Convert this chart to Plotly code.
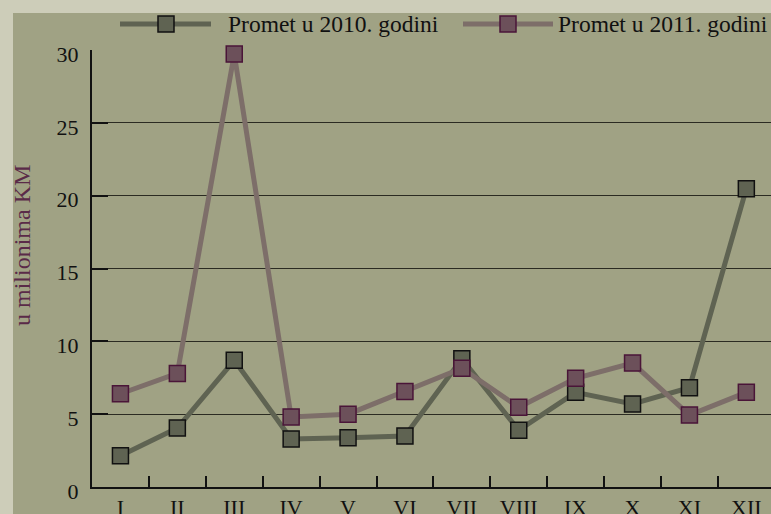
import plotly.graph_objects as go

months = ["I", "II", "III", "IV", "V", "VI", "VII", "VIII", "IX", "X", "XI", "XII"]
promet_2010 = [2.15, 4.05, 8.7, 3.3, 3.38, 3.5, 8.8, 3.9, 6.5, 5.7, 6.82, 20.48]
promet_2011 = [6.4, 7.8, 29.72, 4.81, 5.0, 6.55, 8.15, 5.47, 7.46, 8.51, 4.94, 6.5]
series_names = ["Promet u 2010. godini", "Promet u 2011. godini"]
y_ticks = [0, 5, 10, 15, 20, 25, 30]

W, H = 771, 514
ML, MR, MT, MB = 92, 0, 50, 27
PW, PH = W - ML - MR, H - MT - MB

OUTER = "#cdcdb9"
INNER = "#a0a284"
C2010_LINE = "#5f6352"
C2010_FILL = "#5f6352"
C2011_LINE = "#7d6e69"
C2011_FILL = "#6c505a"
C2011_EDGE = "#4a1538"
FONT = "Liberation Serif"


def px2x(px):
    return (px - ML) / PW


def py2y(py):
    return (H - MB - py) / PH


fig = go.Figure()
fig.add_trace(go.Scatter(
    x=months, y=promet_2010, mode="lines+markers", name=series_names[0],
    line=dict(color=C2010_LINE, width=5),
    marker=dict(symbol="square", size=16, color=C2010_FILL,
                line=dict(color="#111111", width=1.5)),
    showlegend=False, cliponaxis=False,
))
fig.add_trace(go.Scatter(
    x=months, y=promet_2011, mode="lines+markers", name=series_names[1],
    line=dict(color=C2011_LINE, width=5),
    marker=dict(symbol="square", size=16, color=C2011_FILL,
                line=dict(color=C2011_EDGE, width=1.5)),
    showlegend=False, cliponaxis=False,
))

shapes = []
annotations = []
# inner olive panel
shapes.append(dict(type="rect", xref="paper", yref="paper",
                   x0=px2x(13), x1=px2x(W + 20), y0=py2y(H + 20), y1=py2y(13),
                   fillcolor=INNER, line=dict(width=0), layer="below"))

# custom legend
legend_items = [
    (120, 211, 166, 228, series_names[0], C2010_LINE, C2010_FILL, "#111111"),
    (463, 553, 508, 558, series_names[1], C2011_LINE, C2011_FILL, C2011_EDGE),
]
ly = 24
for x0, x1, xm, xt, name, lc, fc, ec in legend_items:
    shapes.append(dict(type="line", xref="paper", yref="paper",
                       x0=px2x(x0), x1=px2x(x1), y0=py2y(ly), y1=py2y(ly),
                       line=dict(color=lc, width=5)))
    shapes.append(dict(type="rect", xref="paper", yref="paper",
                       x0=px2x(xm - 8), x1=px2x(xm + 8), y0=py2y(ly + 8), y1=py2y(ly - 8),
                       fillcolor=fc, line=dict(color=ec, width=1.5)))
    annotations.append(dict(text=name, xref="paper", yref="paper",
                            x=px2x(xt - 2), y=py2y(ly), xanchor="left", yanchor="middle",
                            showarrow=False, font=dict(family=FONT, size=23.5, color="#111111")))

annotations.append(dict(text="u milionima KM", xref="paper", yref="paper",
                        x=px2x(22), y=py2y(246), xanchor="center", yanchor="middle",
                        textangle=-90, showarrow=False,
                        font=dict(family=FONT, size=24, color="#5a2a48")))

fig.update_layout(
    width=W, height=H,
    margin=dict(l=ML, r=MR, t=MT, b=MB, pad=0, autoexpand=False),
    paper_bgcolor=OUTER, plot_bgcolor=INNER,
    showlegend=False,
    shapes=shapes, annotations=annotations,
    font=dict(family=FONT, size=22, color="#111111"),
)
fig.update_xaxes(
    type="category", range=[-0.5, -0.5 + PW / 56.9],
    showgrid=False, zeroline=False,
    showline=True, linecolor="#111111", linewidth=2,
    ticks="inside", ticklen=11, tickwidth=1.5, tickcolor="#111111",
    tickson="boundaries", ticklabelstandoff=0,
    tickfont=dict(family=FONT, size=22, color="#111111"),
    automargin=False, fixedrange=True,
)
fig.update_yaxes(
    range=[0, 30], tickvals=y_ticks,
    showgrid=True, gridcolor="#2b2b22", gridwidth=1.3,
    zeroline=False,
    showline=True, linecolor="#111111", linewidth=2,
    ticks="inside", ticklen=16, tickwidth=2, tickcolor="#111111",
    ticklabelshift=4, ticklabelstandoff=7,
    tickfont=dict(family=FONT, size=22, color="#111111"),
    automargin=False, fixedrange=True,
)

fig.write_html(
    "out.html",
    config={"displayModeBar": False},
    post_script="document.body.style.margin='0';document.body.style.overflow='hidden';"
                "window.dispatchEvent(new Event('resize'));",
)
